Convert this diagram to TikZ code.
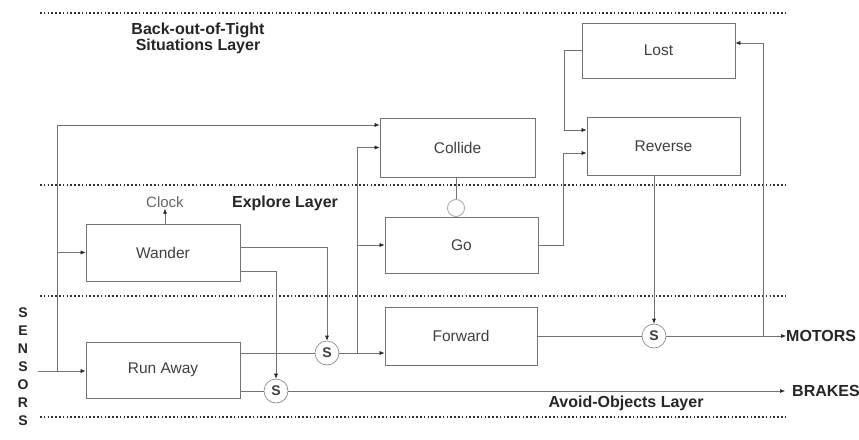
\documentclass[tikz,border=0pt]{standalone}
\usepackage{fontspec}
\setmainfont{Liberation Sans}
\usetikzlibrary{arrows.meta,calc}
\begin{document}
\begin{tikzpicture}[x=1pt,y=-1pt,
  box/.style={draw=black!55, line width=0.7pt, fill=white, inner sep=0pt,
    font=\fontsize{15.5}{17}\selectfont, text=black!75},
  sup/.style={draw=black!50, line width=0.6pt, circle, minimum size=24pt, inner sep=0pt,
    font=\fontsize{14}{16}\selectfont\bfseries, text=black!75, fill=white},
  inh/.style={draw=black!35, line width=0.8pt, circle, minimum size=17pt, inner sep=0pt},
  conn/.style={draw=black!55, line width=0.6pt},
  arr/.style={conn, -{Latex[length=5pt,width=4pt,black!85]}},
  layerline/.style={black!80, line width=1.8pt, dash pattern=on 1.6pt off 2.2pt},
  lbl/.style={font=\fontsize{16}{17}\selectfont\bfseries, text=black!85, align=center},
  outlbl/.style={font=\fontsize{16}{17}\selectfont\bfseries, text=black!85, anchor=west, inner sep=0pt},
  sens/.style={font=\fontsize{14}{15}\selectfont\bfseries, text=black!85, inner sep=0pt}]
\useasboundingbox (0,0) rectangle (859,439);
\fill[white] (0,0) rectangle (859,439);

% layer separators
\draw[layerline] (40,13) -- (785,13);
\draw[layerline] (40,185) -- (785,185);
\draw[layerline] (40,296) -- (785,296);
\draw[layerline] (40,417) -- (785,417);

% layer labels
\node[lbl] (lbtop) at (198,38) {Back-out-of-Tight\\[-1pt]Situations Layer};
\node[lbl] (lbexp) at (285,203) {Explore Layer};
\node[lbl] (lbavo) at (626,403) {Avoid-Objects Layer};

% boxes
\node[box, minimum width=153pt, minimum height=55pt] (lost) at (658.5,50.5) {Lost};
\node[box, minimum width=153pt, minimum height=58pt] (reverse) at (663.5,146) {Reverse};
\node[box, minimum width=155pt, minimum height=59pt] (collide) at (457.5,147.5) {Collide};
\node[box, minimum width=153pt, minimum height=56pt] (go) at (461.5,245) {Go};
\node[box, minimum width=154pt, minimum height=57pt] (wander) at (163,252.5) {Wander};
\node[box, minimum width=154pt, minimum height=56pt] (runaway) at (163,370) {Run Away};
\node[box, minimum width=152pt, minimum height=58pt] (forward) at (461,336) {Forward};

% suppressors / inhibitor
\node[sup] (s1) at (327,353) {S};
\node[sup] (s2) at (276,391) {S};
\node[sup] (s3) at (654,336) {S};
\node[inh] (inh) at (456,208) {};

% other labels
\node[font=\fontsize{15}{17}\selectfont, text=black!60, inner sep=1pt] (clock) at (165,202) {Clock};
\node[outlbl] (motors) at (786,336) {MOTORS};
\node[outlbl] (brakes) at (792,391) {BRAKES};
\foreach \l [count=\i] in {S,E,N,S,O,R,S}
  \node[sens] (sl\i) at (23,{295+18*\i}) {\l};

% connectors
\coordinate (sensin) at (38,371);
\coordinate (sj) at (57,371);
\draw[arr] (sensin) -- (sensin -| runaway.west);
\draw[arr] (sj) |- ([yshift=22.5pt]collide.west);
\draw[arr] (sj |- wander.west) -- (wander.west);
\draw[arr] (wander.north -| clock) -- (clock.south);

\draw[arr] ([yshift=5.5pt]wander.east) -| (s1.north);
\draw[arr] ([yshift=-18.5pt]wander.east) -| (s2.north);
\draw[conn] (s1.west -| runaway.east) -- (s1.west);
\draw[conn] (s2.west -| runaway.east) -- (s2.west);

\coordinate (bj) at (357,353);
\draw[arr] (s1.east) -- (s1.east -| forward.west);
\draw[arr] (bj) |- (collide.west);
\draw[arr] (bj |- go.west) -- (go.west);

\draw[conn] (collide.south -| inh.north) -- (inh.north);

\draw[arr] (go.east) -- ++(25,0) |- ([yshift=-7pt]reverse.west);
\draw[arr] (lost.west) -- ++(-17,0) |- ([yshift=16pt]reverse.west);
\draw[arr] (reverse.south -| s3.north) -- (s3.north);

\draw[conn] (forward.east |- s3.west) -- (s3.west);
\draw[arr] (s3.east) -- (motors.west);
\coordinate (fb) at (763,336);
\draw[arr] (fb) |- ([yshift=7.5pt]lost.east);

\coordinate (brk) at (785,391);
\draw[arr] (s2.east) -- (brk);
\end{tikzpicture}
\end{document}
